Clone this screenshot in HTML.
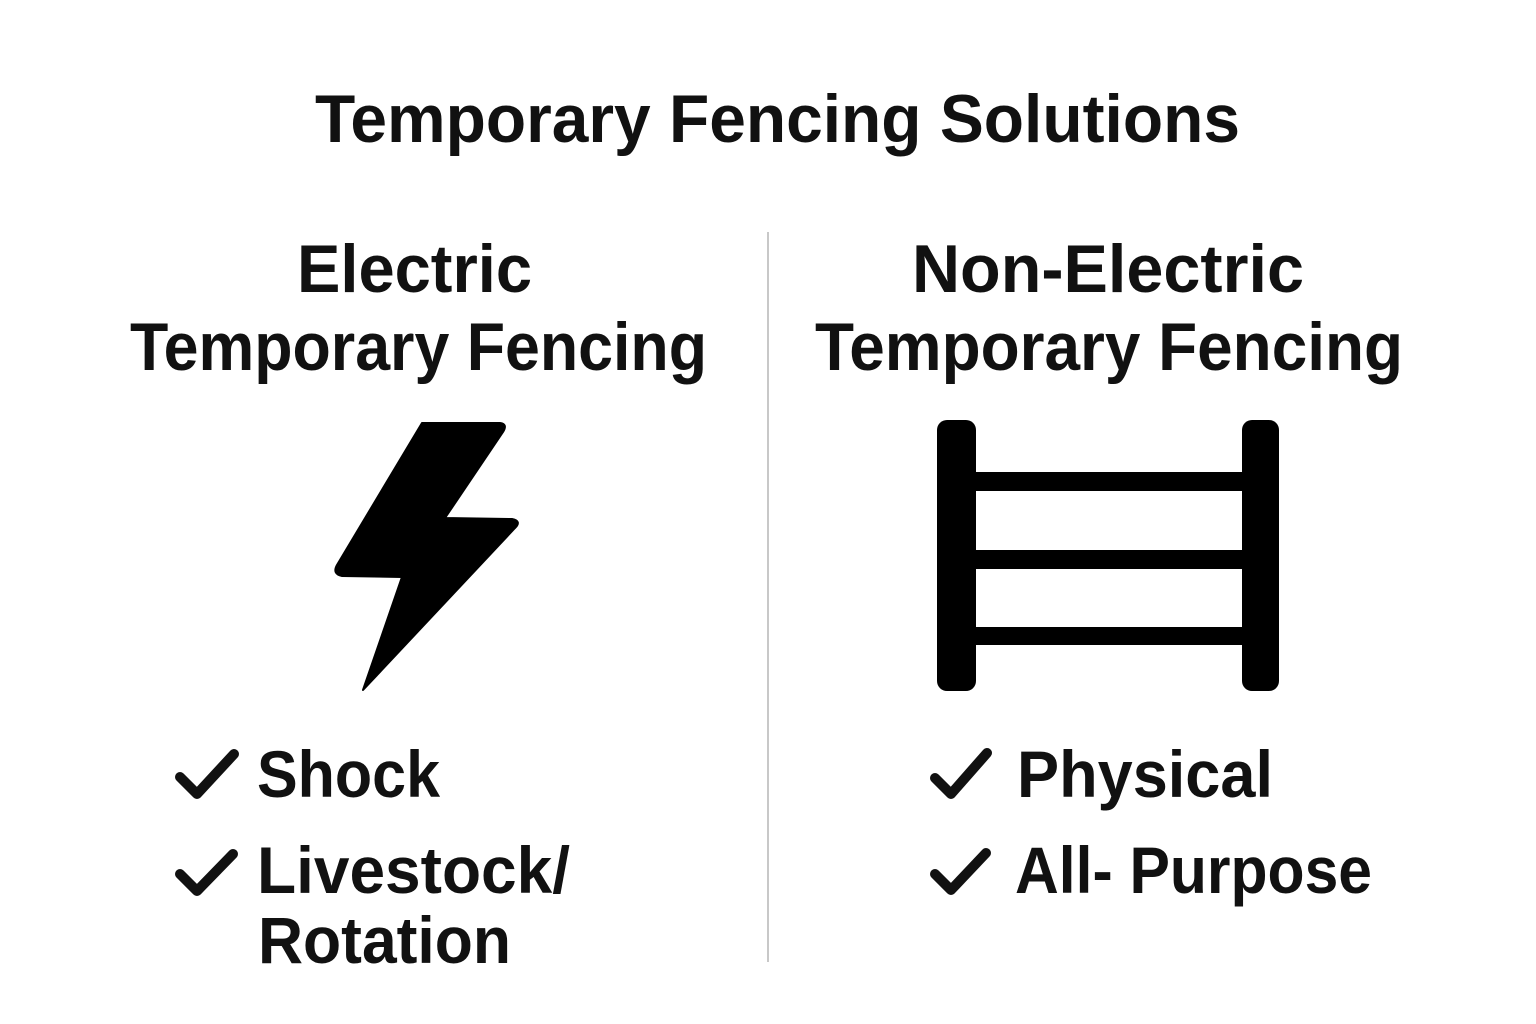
<!DOCTYPE html>
<html><head><meta charset="utf-8"><style>
html,body{margin:0;padding:0;background:#fff;}
svg{display:block;}
text{font-family:"Liberation Sans",sans-serif;font-weight:bold;fill:#111;}
</style></head><body>
<svg width="1536" height="1024" viewBox="0 0 1536 1024" xmlns="http://www.w3.org/2000/svg">
<rect width="1536" height="1024" fill="#fff"/>
<text x="315" y="142" font-size="68" textLength="925" lengthAdjust="spacingAndGlyphs">Temporary Fencing Solutions</text>
<line x1="768" y1="232" x2="768" y2="962" stroke="#c8c8c8" stroke-width="2"/>
<text x="297" y="292" font-size="68" textLength="235" lengthAdjust="spacingAndGlyphs">Electric</text>
<text x="130" y="370" font-size="68" textLength="577" lengthAdjust="spacingAndGlyphs">Temporary Fencing</text>
<text x="912" y="292" font-size="68" textLength="392" lengthAdjust="spacingAndGlyphs">Non-Electric</text>
<text x="815" y="370" font-size="68" textLength="588" lengthAdjust="spacingAndGlyphs">Temporary Fencing</text>
<path d="M422,423 L500,423 Q508,424 503,432 L445,518 L512,519 Q522,521 515,528 L363,690 L402,577 L342,576 Q332,574 337,565 Z" fill="#000" stroke="#000" stroke-width="2" stroke-linejoin="round"/>
<rect x="937" y="420" width="39" height="271" rx="10" fill="#000"/>
<rect x="1242" y="420" width="37" height="271" rx="10" fill="#000"/>
<rect x="970" y="472" width="280" height="19" fill="#000"/>
<rect x="970" y="550" width="280" height="19" fill="#000"/>
<rect x="970" y="627" width="280" height="18" fill="#000"/>
<g fill="none" stroke="#111" stroke-width="10" stroke-linecap="round" stroke-linejoin="round">
<polyline points="180,777 197,794 234,754"/>
<polyline points="180,874 197,891 233,854"/>
<polyline points="935,778 951,794 987,753"/>
<polyline points="935,874 951,890 986,853"/>
</g>
<text x="257" y="797" font-size="66" textLength="183" lengthAdjust="spacingAndGlyphs">Shock</text>
<text x="257" y="893" font-size="66" textLength="313" lengthAdjust="spacingAndGlyphs">Livestock/</text>
<text x="258" y="963" font-size="66" textLength="253" lengthAdjust="spacingAndGlyphs">Rotation</text>
<text x="1017" y="797" font-size="66" textLength="256" lengthAdjust="spacingAndGlyphs">Physical</text>
<text x="1015" y="893" font-size="66" textLength="357" lengthAdjust="spacingAndGlyphs">All- Purpose</text>
</svg>
</body></html>
